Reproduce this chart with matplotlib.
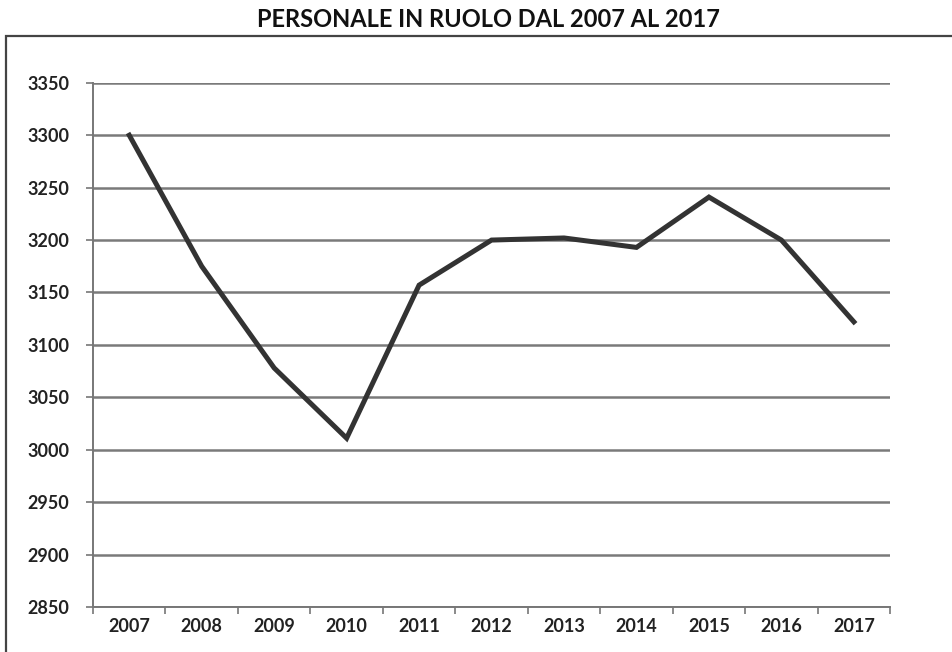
import matplotlib
matplotlib.use("Agg")
import matplotlib.pyplot as plt
from matplotlib.patches import Rectangle
from matplotlib.ticker import FixedLocator

plt.rcParams["font.family"] = ["Lato", "DejaVu Sans"]

years = ["2007", "2008", "2009", "2010", "2011", "2012",
         "2013", "2014", "2015", "2016", "2017"]
personale = [3300, 3175, 3078, 3011, 3157, 3200, 3202, 3193, 3241, 3200, 3122]
y_ticks = list(range(2850, 3351, 50))

fig = plt.figure(figsize=(9.53, 6.52), dpi=100)
ax = fig.add_axes([0.0976, 0.069, 0.8364, 0.804])

x = list(range(len(years)))
ax.plot(x, personale, color="#333333", lw=3.6, solid_joinstyle="miter", zorder=3)

ax.set_xlim(-0.5, len(years) - 0.5)
ax.set_ylim(y_ticks[0], y_ticks[-1])
ax.set_yticks(y_ticks)
ax.set_xticks(x)
ax.set_xticklabels(years)
ax.xaxis.set_minor_locator(FixedLocator([i - 0.5 for i in range(len(years) + 1)]))
ax.tick_params(axis="x", which="major", length=0, pad=8, labelsize=13)
ax.tick_params(axis="x", which="minor", length=5, width=1.2, color="#777777")
ax.tick_params(axis="y", length=5, width=1.2, color="#777777", pad=12, labelsize=13)
for lab in ax.get_xticklabels() + ax.get_yticklabels():
    lab.set_fontweight("bold")
    lab.set_color("#222222")

ax.grid(axis="y", color="#7a7a7a", lw=1.8, zorder=1)
for side in ("top", "right"):
    ax.spines[side].set_visible(False)
for side in ("left", "bottom"):
    ax.spines[side].set_color("#777777")
    ax.spines[side].set_linewidth(1.4)

fig.text(0.513, 0.97, "PERSONALE IN RUOLO DAL 2007 AL 2017", ha="center", va="center",
         fontsize=17, fontweight="bold", color="#111111")

# outer chart frame
fig.patches.append(Rectangle((0.006, -0.01), 1.0, 0.955, transform=fig.transFigure,
                             fill=False, edgecolor="#444444", lw=1.6))

fig.savefig("out.png", dpi=100)
